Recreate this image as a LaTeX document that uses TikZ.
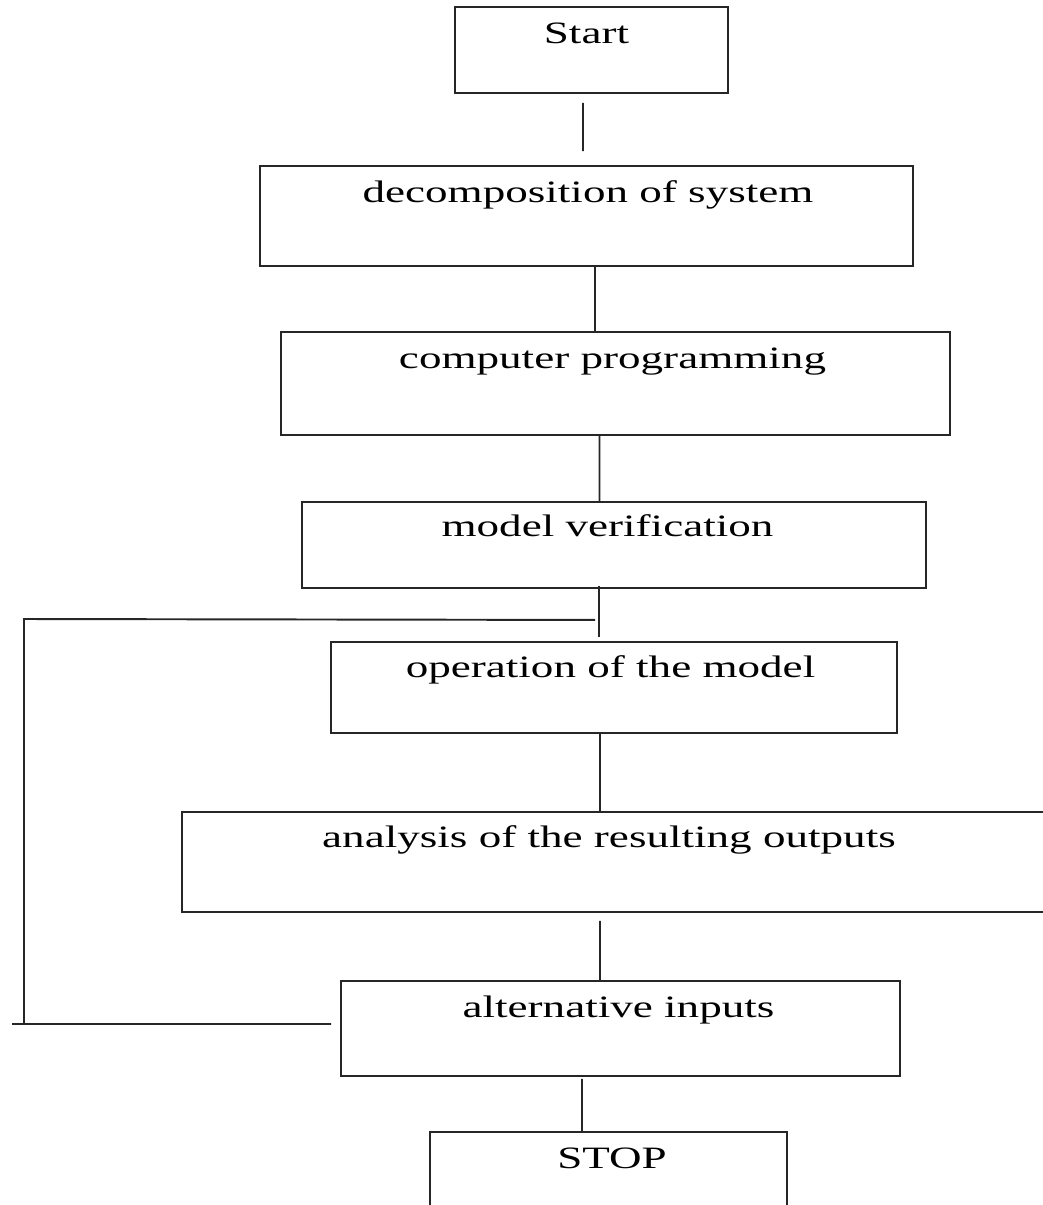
\documentclass[tikz,border=0pt]{standalone}
\usepackage{fontspec}
\setmainfont[FakeStretch=1.45]{Liberation Serif}

\begin{document}
\begin{tikzpicture}[x=0.02cm, y=-0.02cm,
    box/.style={draw=black!85, line width=1.1pt, inner sep=0pt},
    link/.style={draw=black!85, line width=1.1pt},
    lbl/.style={anchor=base, inner sep=0pt, font=\fontsize{17.7pt}{21pt}\selectfont}]
    \clip (0,0) rectangle (1043,1205);
    % boxes
    \node[box, minimum width=5.46cm,  minimum height=1.72cm] (start)    at (591.5,50)    {};
    \node[box, minimum width=13.06cm, minimum height=2.0cm]  (decomp)   at (586.5,216)   {};
    \node[box, minimum width=13.38cm, minimum height=2.06cm] (prog)     at (615.5,383.5) {};
    \node[box, minimum width=12.48cm, minimum height=1.72cm] (verif)    at (614,545)     {};
    \node[box, minimum width=11.32cm, minimum height=1.82cm] (oper)     at (614,687.5)   {};
    \node[box, minimum width=17.56cm, minimum height=2.0cm]  (analysis) at (621,862)     {};
    \node[box, minimum width=11.18cm, minimum height=1.9cm]  (alt)      at (620.5,1028.5){};
    \node[box, minimum width=7.14cm,  minimum height=2.16cm] (stop)     at (608.5,1186)  {};
    % texts
    \node[lbl] (tstart)    at (586.5,43)  {Start};
    \node[lbl] (tdecomp)   at (588,202)   {decomposition of system};
    \node[lbl] (tprog)     at (612.5,368) {computer programming};
    \node[lbl] (tverif)    at (607.5,536) {model verification};
    \node[lbl] (toper)     at (610.5,677) {operation of the model};
    \node[lbl] (tanalysis) at (609,847)   {analysis of the resulting outputs};
    \node[lbl] (talt)      at (618.5,1017){alternative inputs};
    \node[lbl] (tstop)     at (612,1168)  {STOP};
    % connectors
    \draw[link] ([xshift=-0.17cm,yshift=-0.18cm]start.south) -- ([xshift=-0.07cm,yshift=0.28cm]decomp.north);
    \draw[link] ([xshift=0.17cm]decomp.south) -- ([xshift=-0.41cm]prog.north);
    \draw[link] ([xshift=-0.32cm]prog.south) -- ([xshift=-0.29cm]verif.north);
    \draw[link] ([xshift=-0.30cm,yshift=0.06cm]verif.south) -- ([xshift=-0.30cm,yshift=0.08cm]oper.north);
    \draw[link] ([xshift=-0.28cm]oper.south) -- ([xshift=-0.42cm]analysis.north);
    \draw[link] ([xshift=-0.42cm,yshift=-0.16cm]analysis.south) -- ([xshift=-0.41cm]alt.north);
    \draw[link] ([xshift=-0.77cm,yshift=-0.04cm]alt.south) -- ([xshift=-0.53cm]stop.north);
    % feedback loop on the left
    \coordinate (back)    at (12,1024);
    \coordinate (backtop) at (24,619);
    \draw[link] ([xshift=-0.18cm,yshift=0.09cm]alt.west) -- (back);
    \draw[link] (back -| backtop) -- (backtop) -- ([xshift=-0.38cm,yshift=-0.62cm]verif.south);
\end{tikzpicture}
\end{document}
